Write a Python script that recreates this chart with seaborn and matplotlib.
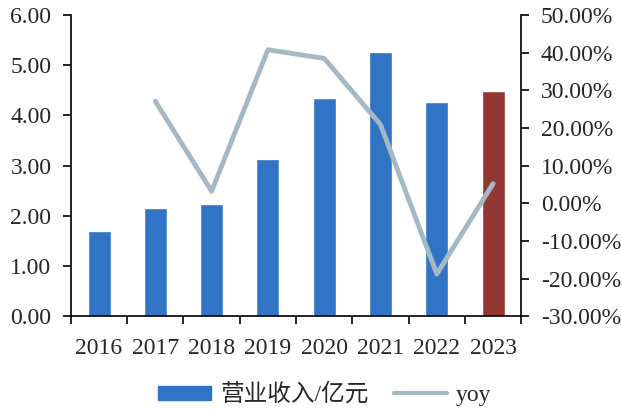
import matplotlib
matplotlib.use("Agg")
import matplotlib.pyplot as plt
import seaborn as sns
import pandas as pd
import numpy as np
from matplotlib.patches import Patch
from matplotlib.lines import Line2D
from matplotlib.ticker import FuncFormatter, FixedLocator

years = ["2016", "2017", "2018", "2019", "2020", "2021", "2022", "2023"]
revenue = [1.70, 2.16, 2.23, 3.14, 4.35, 5.26, 4.27, 4.49]
yoy_years = ["2017", "2018", "2019", "2020", "2021", "2022", "2023"]
yoy = [27.1, 3.2, 40.8, 38.5, 20.9, -18.8, 5.2]

bar_label = "营业收入/亿元"
line_label = "yoy"

blue = "#3173C4"
red = "#943634"
grey = "#A5B9C4"

sns.set_theme(style="white")
plt.rcParams["font.family"] = ["Liberation Serif", "Noto Sans CJK SC"]

fs = 17

fig = plt.figure(figsize=(6.22, 4.09), dpi=100)
ax = fig.add_axes([0.114, 0.227, 0.724, 0.736])

df = pd.DataFrame({"year": years, "revenue": revenue})
colors = [blue] * (len(years) - 1) + [red]
sns.barplot(data=df, x="year", y="revenue", hue="year", palette=colors,
            legend=False, width=0.41, ax=ax, saturation=1)

ax.set_xlim(-0.5, len(years) - 0.5)
ax.set_ylim(0, 6)
ax.set_yticks(np.arange(0, 6.01, 1))
ax.yaxis.set_major_formatter(FuncFormatter(lambda v, p: f"{v:.2f}"))
ax.set_xlabel("")
ax.set_ylabel("")
ax.tick_params(axis="y", direction="out", length=6, width=1.2, color="black",
               labelsize=fs, pad=8, left=True)
ax.tick_params(axis="x", which="major", length=0, labelsize=fs, pad=16)
ax.xaxis.set_minor_locator(FixedLocator(np.arange(-0.5, len(years), 1.0)))
ax.tick_params(axis="x", which="minor", direction="out", length=6, width=1.2,
               color="black", bottom=True)
for s in ["top", "right"]:
    ax.spines[s].set_visible(False)
for s in ["left", "bottom"]:
    ax.spines[s].set_color("black")
    ax.spines[s].set_linewidth(1.2)

ax2 = ax.twinx()
pos = [years.index(y) for y in yoy_years]
ldf = pd.DataFrame({"pos": pos, "yoy": yoy})
sns.lineplot(data=ldf, x="pos", y="yoy", color=grey, linewidth=3.5, ax=ax2)
ax2.set_ylim(-30, 50)
ax2.set_yticks(np.arange(-30, 50.1, 10))
ax2.yaxis.set_major_formatter(FuncFormatter(lambda v, p: f"{v:.2f}%"))
ax2.set_ylabel("")
ax2.set_xlabel("")
ax2.tick_params(axis="y", direction="out", length=6, width=1.2, color="black",
                labelsize=fs, pad=8, right=True)
for s in ["top", "left", "bottom"]:
    ax2.spines[s].set_visible(False)
ax2.spines["right"].set_color("black")
ax2.spines["right"].set_linewidth(1.2)
ax2.set_xlim(-0.5, len(years) - 0.5)

handles = [Patch(facecolor=blue, edgecolor=blue),
           Line2D([0], [0], color=grey, linewidth=3)]
fig.legend(handles, [bar_label, line_label], loc="center",
           bbox_to_anchor=(0.522, 0.035), ncol=2, frameon=False, fontsize=17,
           handlelength=2.25, handleheight=0.55, columnspacing=1.05,
           handletextpad=0.4)

fig.savefig("out.png", dpi=100)
